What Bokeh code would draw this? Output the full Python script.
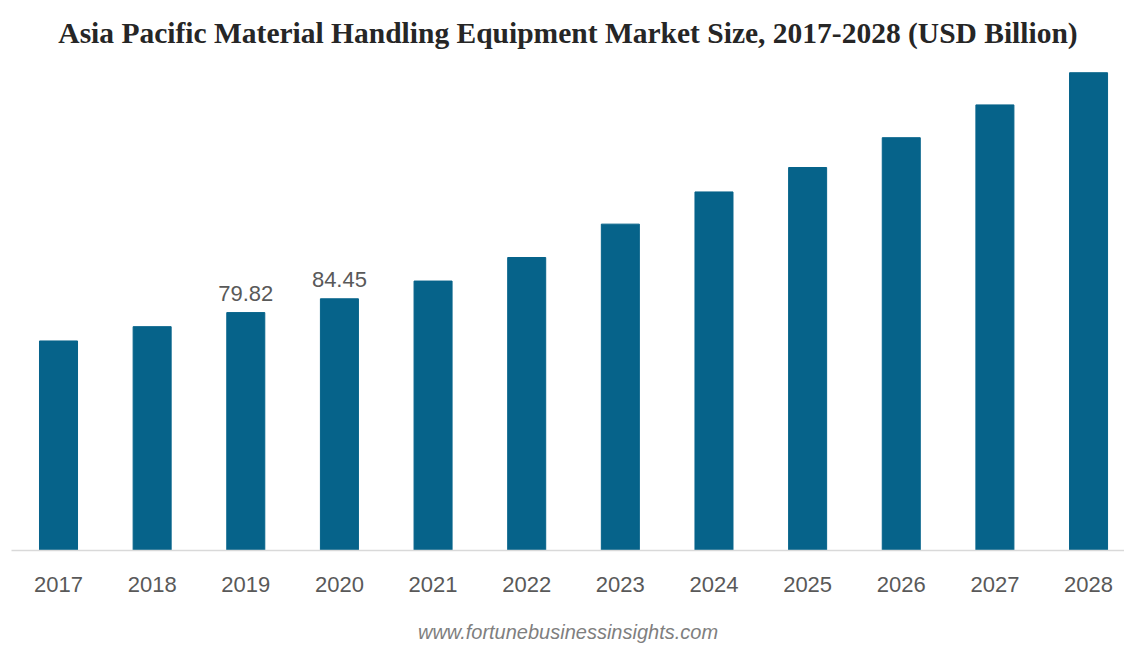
from bokeh.plotting import figure
from bokeh.models import ColumnDataSource, Range1d, FixedTicker, Title, LabelSet
from bokeh.core.properties import value
from bokeh.embed import file_html
from bokeh.resources import INLINE

years = ["2017", "2018", "2019", "2020", "2021", "2022", "2023", "2024", "2025", "2026", "2027", "2028"]
market_size = [70.3, 75.1, 79.82, 84.45, 90.4, 98.3, 109.5, 120.3, 128.5, 138.5, 149.5, 160.3]
labeled_years = ["2019", "2020"]

idx = list(range(len(years)))
src = ColumnDataSource(dict(x=idx, top=market_size))
lab_x = [years.index(y) for y in labeled_years]
lab_v = [market_size[i] for i in lab_x]
lab_src = ColumnDataSource(dict(x=lab_x, y=lab_v, t=[f"{v:.2f}" for v in lab_v]))

p = figure(frame_width=1113, frame_height=490, output_backend="svg", toolbar_location=None,
           x_range=Range1d(-0.502, 11.384), y_range=Range1d(0, 164.4),
           min_border_left=11, min_border_right=0, min_border_top=60, min_border_bottom=0)

p.title.text = "Asia Pacific Material Handling Equipment Market Size, 2017-2028 (USD Billion)"
p.title.align = "center"
p.title.text_font = "Liberation Serif"
p.title.text_font_style = "bold"
p.title.text_font_size = "29.5px"
p.title.text_color = "#262626"
p.title.standoff = 24

p.vbar(x="x", top="top", width=0.406, source=src, color="#06638A")

p.add_layout(LabelSet(x="x", y="y", text="t", source=lab_src, text_align="center",
                      y_offset=12, text_font=value("Liberation Sans"), text_font_size=value("22px"),
                      text_color="#595959"))

p.yaxis.visible = False
p.xgrid.visible = False
p.ygrid.visible = False
p.outline_line_color = None

ax = p.xaxis[0]
ax.ticker = FixedTicker(ticks=idx)
ax.major_label_overrides = {i: y for i, y in zip(idx, years)}
ax.major_tick_line_color = None
ax.minor_tick_line_color = None
ax.axis_line_color = "#D9D9D9"
ax.axis_line_width = 1.5
ax.major_label_text_font = "Liberation Sans"
ax.major_label_text_font_size = "22px"
ax.major_label_text_color = "#595959"
ax.major_label_standoff = 20

p.add_layout(Title(text="www.fortunebusinessinsights.com", align="center",
                   text_font="Liberation Sans", text_font_style="italic",
                   text_font_size="20px", text_color="#7F7F7F", standoff=48), "below")

open("out.html", "w").write(file_html(p, INLINE))
